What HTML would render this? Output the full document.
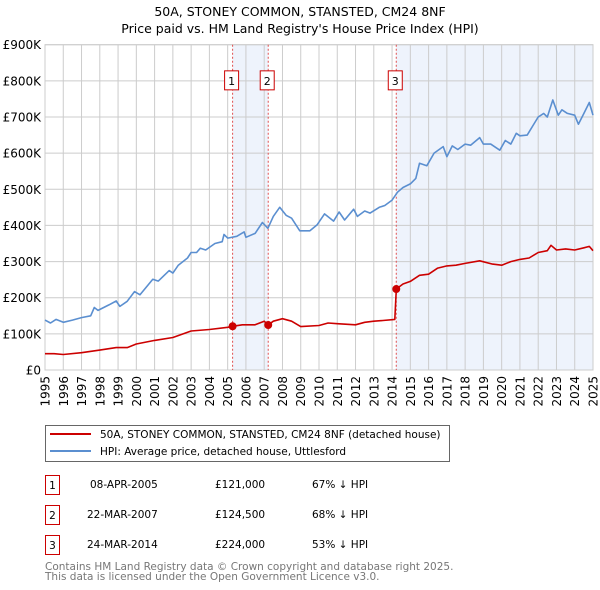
<!DOCTYPE html>
<html><head><meta charset="utf-8"><style>
body{margin:0;background:#fff;font-family:"DejaVu Sans","Liberation Sans",sans-serif;}
svg{display:block;font-family:"DejaVu Sans","Liberation Sans",sans-serif;}
</style></head><body>
<svg width="600" height="590" xmlns="http://www.w3.org/2000/svg" id="chart">
<text x="300" y="16" text-anchor="middle" font-size="12.5" fill="#000">50A, STONEY COMMON, STANSTED, CM24 8NF</text>
<text x="300" y="33" text-anchor="middle" font-size="12.5" fill="#000">Price paid vs. HM Land Registry's House Price Index (HPI)</text>
<g id="plot"></g>
<g>
<rect x="45.5" y="425.5" width="404" height="36" fill="#fff" stroke="#666"/>
<line x1="50" y1="434" x2="91" y2="434" stroke="#cc0000" stroke-width="2"/>
<text x="100" y="438" font-size="10.5">50A, STONEY COMMON, STANSTED, CM24 8NF (detached house)</text>
<line x1="50" y1="451" x2="91" y2="451" stroke="#5b8fd0" stroke-width="2"/>
<text x="100" y="455" font-size="10.5">HPI: Average price, detached house, Uttlesford</text>
</g>
<g font-size="10.5">
<rect x="45.5" y="475.5" width="14" height="19" fill="#fff" stroke="#cc0000"/><text x="52.5" y="489" text-anchor="middle">1</text>
<text x="90" y="488">08-APR-2005</text><text x="215" y="488">£121,000</text><text x="312" y="488">67% ↓ HPI</text>
<rect x="45.5" y="505.5" width="14" height="19" fill="#fff" stroke="#cc0000"/><text x="52.5" y="519" text-anchor="middle">2</text>
<text x="87" y="518">22-MAR-2007</text><text x="215" y="518">£124,500</text><text x="312" y="518">68% ↓ HPI</text>
<rect x="45.5" y="535.5" width="14" height="19" fill="#fff" stroke="#cc0000"/><text x="52.5" y="549" text-anchor="middle">3</text>
<text x="87" y="548">24-MAR-2014</text><text x="215" y="548">£224,000</text><text x="312" y="548">53% ↓ HPI</text>
</g>
<text x="45" y="570" font-size="10.5" fill="#777">Contains HM Land Registry data © Crown copyright and database right 2025.</text>
<text x="45" y="580" font-size="10.5" fill="#777">This data is licensed under the Open Government Licence v3.0.</text>
</svg>
<script>
const hpiYears=[1995,1995.3,1995.6,1996,1996.5,1997,1997.5,1997.7,1997.9,1998.5,1998.9,1999.1,1999.5,1999.9,2000.2,2000.9,2001.2,2001.8,2002,2002.3,2002.8,2003,2003.3,2003.5,2003.8,2004.3,2004.7,2004.8,2005,2005.5,2005.9,2006,2006.5,2006.9,2007.2,2007.5,2007.85,2008.2,2008.5,2008.95,2009.5,2009.9,2010.3,2010.8,2011.1,2011.4,2011.9,2012.1,2012.5,2012.8,2013.3,2013.6,2014,2014.3,2014.6,2015,2015.3,2015.5,2015.9,2016.3,2016.8,2017,2017.3,2017.6,2018,2018.3,2018.8,2019,2019.4,2019.9,2020.2,2020.5,2020.8,2021,2021.4,2021.7,2022,2022.3,2022.5,2022.8,2023.1,2023.3,2023.6,2024,2024.2,2024.5,2024.8,2025];
const hpiValues=[138,130,140,132,138,145,150,173,165,180,191,176,190,217,208,251,246,275,268,290,310,325,325,337,332,350,355,375,365,370,382,367,378,408,392,425,450,428,420,385,385,402,432,412,437,415,445,425,440,434,450,455,470,492,505,515,530,572,565,600,618,590,620,610,625,622,643,625,625,608,635,625,655,648,650,675,700,710,700,747,705,720,710,705,680,710,740,705];
const ppYears=[1995,1995.5,1996,1997,1998,1998.9,1999.5,2000,2001,2002,2003,2004,2005,2005.27,2005.8,2006.5,2007,2007.22,2007.5,2008,2008.5,2009,2010,2010.5,2011,2012,2012.5,2013,2013.5,2014.15,2014.23,2014.6,2015,2015.5,2016,2016.5,2017,2017.5,2018,2018.8,2019.5,2020,2020.5,2021,2021.5,2022,2022.5,2022.7,2023,2023.5,2024,2024.5,2024.8,2025];
const ppValues=[45,45,43,48,55,62,62,72,82,90,108,112,118,121,125,125,135,124.5,135,142,135,120,123,130,128,125,132,135,137,140,224,238,245,262,265,282,288,290,295,302,293,290,300,306,310,325,330,345,332,335,332,338,342,330];
const saleYears=[2005.27,2007.22,2014.23];
const saleValues=[121,124.5,224];
const saleLabels=["1","2","3"];
const yTicks=[0,100,200,300,400,500,600,700,800,900];
const yTickLabels=["£0","£100K","£200K","£300K","£400K","£500K","£600K","£700K","£800K","£900K"];
const xTicks=[1995,1996,1997,1998,1999,2000,2001,2002,2003,2004,2005,2006,2007,2008,2009,2010,2011,2012,2013,2014,2015,2016,2017,2018,2019,2020,2021,2022,2023,2024,2025];

const NS="http://www.w3.org/2000/svg";
const X0=45,X1=593,Y0=370,Y1=44.7;
const xs=y=>X0+(y-1995)/30*(X1-X0);
const ys=v=>Y0-v/900*(Y0-Y1);
const plot=document.getElementById('plot');
function mk(tag,attrs,parent){const e=document.createElementNS(NS,tag);for(const k in attrs)e.setAttribute(k,attrs[k]);(parent||plot).appendChild(e);return e;}

let s1=mk('rect',{x:xs(saleYears[0]),y:Y1,width:xs(saleYears[1])-xs(saleYears[0]),height:Y0-Y1,fill:'#eef3fc'});


let s2=mk('rect',{x:xs(saleYears[2]),y:Y1,width:X1-xs(saleYears[2]),height:Y0-Y1,fill:'#eef3fc'});



yTicks.forEach((v,i)=>{
  const g=mk('line',{x1:X0,x2:X1,y1:ys(v),y2:ys(v),stroke:'#ccc','stroke-width':1});
  
  
  const t=mk('text',{x:41,y:ys(v)+4.5,'text-anchor':'end','font-size':12,fill:'#000'});
  t.textContent=yTickLabels[i];
  
  
});
xTicks.forEach(yr=>{
  const g=mk('line',{x1:xs(yr),x2:xs(yr),y1:Y1,y2:Y0,stroke:'#ccc','stroke-width':1});
  
  
  const t=mk('text',{x:0,y:0,'text-anchor':'end','font-size':12,fill:'#000',transform:`translate(${xs(yr)+4.5},376) rotate(-90)`});
  t.textContent=yr;
  
  
});
mk('rect',{x:X0,y:Y1,width:X1-X0,height:Y0-Y1,fill:'none',stroke:'#ccc'});

saleYears.forEach((yr,i)=>{
  const l=mk('line',{x1:xs(yr),x2:xs(yr),y1:Y1,y2:Y0,stroke:'#e05050','stroke-width':1,'stroke-dasharray':'2,2'});
  
  
  const b=mk('rect',{x:xs(yr)-8,y:ys(800)-10,width:14,height:19,fill:'#fff',stroke:'#cc0000'});
  
  
  const t=mk('text',{x:xs(yr)-1,y:ys(800)+4,'text-anchor':'middle','font-size':11});
  t.textContent=saleLabels[i];
  
  
});

function line(xsA,vs,color,name){
  const d=xsA.map((y,i)=>(i?'L':'M')+xs(y).toFixed(1)+','+ys(vs[i]).toFixed(1)).join('');
  const p=mk('path',{d,fill:'none',stroke:color,'stroke-width':1.6,'stroke-linejoin':'round'});
  
  
}
line(hpiYears,hpiValues,'#5b8fd0','hpi-line');
line(ppYears,ppValues,'#cc0000','price-paid-line');
saleYears.forEach((yr,i)=>{
  const c=mk('circle',{cx:xs(yr),cy:ys(saleValues[i]),r:4,fill:'#cc0000'});
  
  
});
</script>
</body></html>
